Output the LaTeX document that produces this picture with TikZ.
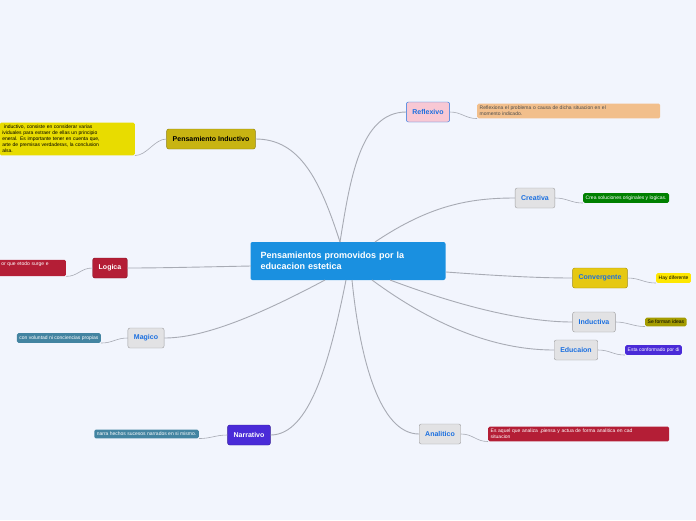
\documentclass[tikz,border=0pt]{standalone}
\usepackage{fontspec}
\setmainfont{Liberation Sans}
\usetikzlibrary{positioning}
\definecolor{bg}{HTML}{F2F5FD}
\definecolor{link}{HTML}{A8ABB4}
\definecolor{topicblue}{HTML}{1A90E0}
\definecolor{txtblue}{HTML}{1A6FE0}
\definecolor{reflfill}{HTML}{F8C8D4}
\definecolor{grayfill}{HTML}{E2E2E4}
\definecolor{convfill}{HTML}{E6C812}
\definecolor{narrfill}{HTML}{4A2BD8}
\definecolor{logifill}{HTML}{B41E36}
\definecolor{pindfill}{HTML}{C8B412}
\tikzset{
  topic/.style={draw=#1!70!black, fill=#1, rounded corners=2pt, minimum height=20pt, inner xsep=6pt, font=\fontsize{7}{8}\selectfont\bfseries},
  note/.style={fill=#1, rounded corners=1.5pt, inner sep=2.5pt, font=\fontsize{5}{6}\selectfont, align=left, anchor=west},
  conn/.style={draw=link, line width=0.9pt}
}
\begin{document}
\begin{tikzpicture}[x=1pt,y=-1pt]
\fill[bg] (0,0) rectangle (696,520);
\useasboundingbox (0,0) rectangle (696,520);
\clip (0,0) rectangle (696,520);
% central idea
\node[fill=topicblue, rounded corners=2pt, minimum width=195pt, minimum height=38pt, text width=175pt,
  font=\fontsize{9}{11}\selectfont\bfseries, text=white, align=left] (root) at (348,261)
  {Pensamientos promovidos por la\\educacion estetica};
% main topics
\node[topic=reflfill, text=txtblue, draw=txtblue] (refl) at (428,112) {Reflexivo};
\node[topic=grayfill, text=txtblue] (crea) at (535,198) {Creativa};
\node[topic=convfill, text=txtblue] (conv) at (600,278) {Convergente};
\node[topic=grayfill, text=txtblue] (indu) at (594,322) {Inductiva};
\node[topic=grayfill, text=txtblue] (educ) at (576,350) {Educaion};
\node[topic=grayfill, text=txtblue] (anal) at (440,434) {Analitico};
\node[topic=narrfill, text=white] (narr) at (249,435) {Narrativo};
\node[topic=grayfill, text=txtblue] (magi) at (146,338) {Magico};
\node[topic=logifill, text=white] (logi) at (110,268) {Logica};
\node[topic=pindfill, text=black] (pind) at (211,139) {Pensamiento Inductivo};
% notes
\node[note=brown!40!orange!50, text=black!70, text width=178pt] (nrefl) at (477,111) {Reflexiona el problema o causa de dicha situacion en el\\momento indicado.};
\node[note=green!50!black, text=white] (ncrea) at (583,198) {Crea soluciones originales y logicas.};
\node[note=yellow!90!orange] (nconv) at (656,278) {Hay diferente};
\node[note=olive!80!yellow] (nindu) at (645,322) {Se forman ideas};
\node[note=narrfill, text=white] (neduc) at (625,350) {Esta conformado por di};
\node[note=logifill, text=white, text width=176pt] (nanal) at (488,434) {Es aquel que analiza ,piensa y actua de forma analitica en cad\\situacion};
\node[note=cyan!60!black, text=white, anchor=east] (nnarr) at (199,434) {narra hechos sucesos narrados en si mismo.};
\node[note=cyan!60!black, text=white, anchor=east] (nmagi) at (101,338) {con voluntad ni conciencias propias};
\node[note=logifill, text=white, anchor=east, text width=62pt] (nlogi) at (66,268) {or que etodo surge e\\\strut};
\node[note=yellow!80!olive, text=black, anchor=east, text width=130pt] (npind) at (135,139) {\ inductivo, consiste en considerar varias\\ividuales para extraer de ellas un principio\\eneral. Es importante tener en cuenta que,\\arte de premisas verdaderas, la conclusion\\alsa.};
% connectors from the centre
\draw[conn] (340,242) .. controls (350,180) and (360,112) .. (refl.west);
\draw[conn] (375,242) .. controls (430,205) and (470,198) .. (crea.west);
\draw[conn] (446,272) .. controls (500,276) and (540,278) .. (conv.west);
\draw[conn] (390,280) .. controls (470,310) and (530,322) .. (indu.west);
\draw[conn] (372,280) .. controls (440,330) and (500,350) .. (educ.west);
\draw[conn] (352,280) .. controls (360,360) and (380,434) .. (anal.west);
\draw[conn] (346,280) .. controls (330,360) and (310,435) .. (narr.east);
\draw[conn] (325,280) .. controls (250,320) and (200,338) .. (magi.east);
\draw[conn] (251,266) .. controls (200,267) and (160,268) .. (logi.east);
\draw[conn] (340,242) .. controls (320,180) and (300,139) .. (pind.east);
% connectors to the notes
\foreach \t/\n in {refl/nrefl, crea/ncrea, conv/nconv, indu/nindu, educ/neduc, anal/nanal}
  \draw[conn, line width=0.6pt] (\t.east) .. controls +(12,0) and +(-12,0) .. (\n.south west);
\foreach \t/\n in {narr/nnarr, magi/nmagi, logi/nlogi, pind/npind}
  \draw[conn, line width=0.6pt] (\t.west) .. controls +(-12,0) and +(12,0) .. (\n.south east);
\end{tikzpicture}
\end{document}
